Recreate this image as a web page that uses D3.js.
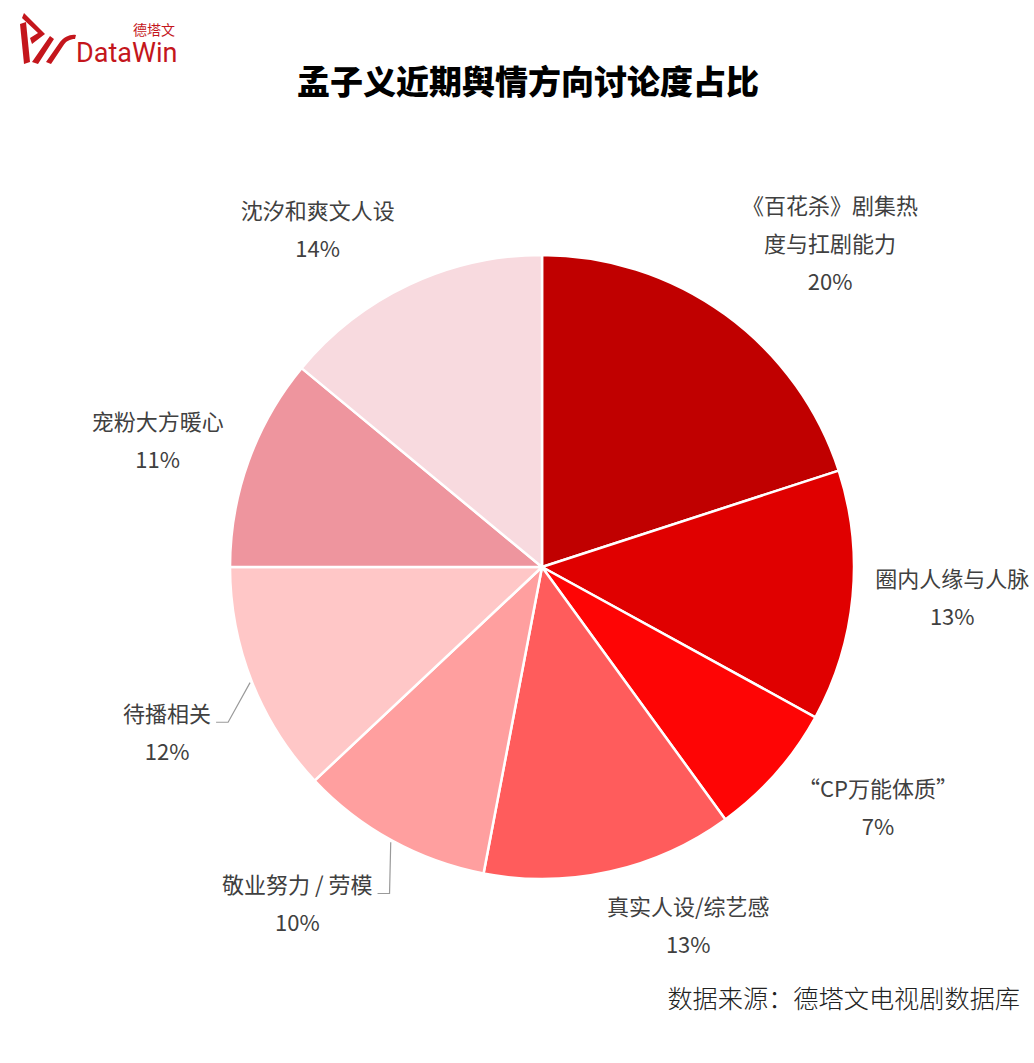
<!DOCTYPE html>
<html>
<head>
<meta charset="utf-8">
<script src="https://cdn.jsdelivr.net/npm/d3@7"></script>
<style>
  body { margin: 0; background: #fff; }
  svg { display: block; }
</style>
</head>
<body>
<div id="chart"></div>
<script>
// data
var categories = ['《百花杀》剧集热度与扛剧能力', '圈内人缘与人脉', '“CP万能体质”', '真实人设/综艺感',
                  '敬业努力 / 劳模', '待播相关', '宠粉大方暖心', '沈汐和爽文人设'];
var labelLines = [['《百花杀》剧集热', '度与扛剧能力'], ['圈内人缘与人脉'], ['“CP万能体质”'], ['真实人设/综艺感'],
                  ['敬业努力 / 劳模'], ['待播相关'], ['宠粉大方暖心'], ['沈汐和爽文人设']];
var shares = [20, 13, 7, 13, 10, 12, 11, 14];
var colors = ['#C00000', '#E00000', '#FE0505', '#FF5C5C', '#FF9F9F', '#FFC7C7', '#EE959E', '#F8DADF'];
var hasLeader = [false, false, false, false, true, true, false, false];

var title = '孟子义近期舆情方向讨论度占比';
var source = '数据来源：德塔文电视剧数据库';

// layout
var W = 1034, H = 1063;
var cx = 542, cy = 567, radius = 312, labelRadius = 400;
var lineGap = 38;
// small nudges so the label blocks sit where the original put them
var nudge = [[53, 1], [12, -6], [36, -23], [59, -31], [-52, -13], [-3, 19], [-8, 10], [-54, 25]];

var cjk = '"Noto Sans CJK SC", "Noto Sans", sans-serif';

var svg = d3.select('#chart').append('svg')
    .attr('width', W)
    .attr('height', H);

// logo
var logo = svg.append('g').attr('fill', '#C4161C');
logo.append('path')
    .attr('d', 'M20,24 L26,22 L30,62 L24,64 Z');
logo.append('path')
    .attr('d', 'M24,13 L45,34 L32,44 L30,38 L38,33 L22,18 Z');
logo.append('path')
    .attr('d', 'M32,62 L50,36 L54,39 L38,64 Z M46,62 L60,42 C64,37 70,34 76,35 L75,39 C70,39 66,41 63,46 L51,64 Z');
svg.append('text')
    .attr('x', 76).attr('y', 62)
    .attr('font-family', 'Roboto, "Noto Sans", sans-serif')
    .attr('font-size', 27)
    .attr('fill', '#C4161C')
    .text('DataWin');
svg.append('text')
    .attr('x', 175).attr('y', 35)
    .attr('text-anchor', 'end')
    .attr('font-family', cjk)
    .attr('font-size', 14)
    .attr('fill', '#C4161C')
    .text('德塔文');

// title
svg.append('text')
    .attr('x', 528).attr('y', 94)
    .attr('text-anchor', 'middle')
    .attr('font-family', cjk)
    .attr('font-weight', 900)
    .attr('font-size', 33)
    .attr('fill', '#000')
    .text(title);

// pie
var pie = d3.pie().sort(null).value(function(d) { return d; });
var arcs = pie(shares);
var arc = d3.arc().innerRadius(0).outerRadius(radius);

var g = svg.append('g').attr('transform', 'translate(' + cx + ',' + cy + ')');

g.selectAll('path.slice')
    .data(arcs)
  .enter().append('path')
    .attr('class', 'slice')
    .attr('d', arc)
    .attr('fill', function(d, i) { return colors[i]; })
    .attr('stroke', '#fff')
    .attr('stroke-width', 2.5)
    .attr('stroke-linejoin', 'round');

function polar(a, r) {
    return [Math.sin(a) * r, -Math.cos(a) * r];
}

// labels
arcs.forEach(function(d, i) {
    var mid = (d.startAngle + d.endAngle) / 2;
    var p = polar(mid, labelRadius);
    var lines = labelLines[i].concat([shares[i] + '%']);
    var bx = p[0] + nudge[i][0];
    var by = p[1] + nudge[i][1] - (lines.length - 1) * lineGap / 2;

    var t = g.append('text')
        .attr('text-anchor', 'middle')
        .attr('font-family', cjk)
        .attr('font-size', 22)
        .attr('fill', '#404040');

    lines.forEach(function(s, k) {
        t.append('tspan')
            .attr('x', bx)
            .attr('y', by + k * lineGap)
            .attr('dy', '0.35em')
            .text(s);
    });

    if (hasLeader[i]) {
        var tw = t.select('tspan').node().getComputedTextLength();
        var start = polar(mid, radius + 2);
        var endX = bx + tw / 2 + 5, endY = by + 8;
        var elbowX = endX + 12;
        g.append('path')
            .attr('d', d3.line()([start, [elbowX, endY], [endX, endY]]))
            .attr('fill', 'none')
            .attr('stroke', '#9a9a9a')
            .attr('stroke-width', 1.2);
    }
});

// source
svg.append('text')
    .attr('x', 1020).attr('y', 1008)
    .attr('text-anchor', 'end')
    .attr('font-family', cjk)
    .attr('font-weight', 300)
    .attr('font-size', 25.2)
    .attr('fill', '#222')
    .text(source);
</script>
</body>
</html>
